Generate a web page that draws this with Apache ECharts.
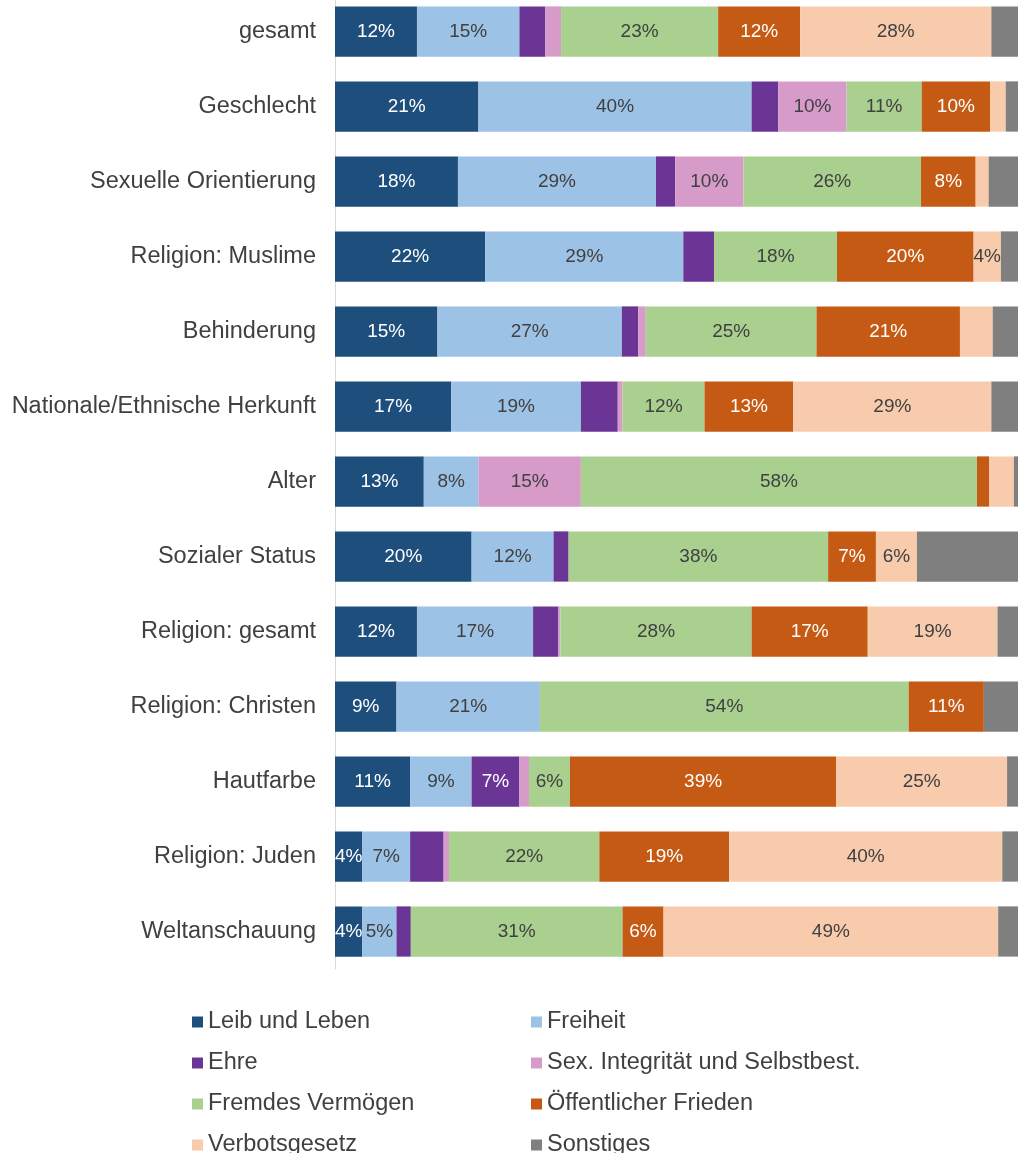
<!DOCTYPE html>
<html lang="de">
<head>
<meta charset="utf-8">
<title>Delikte nach Vorurteilsmotiv</title>
<script src="https://cdn.jsdelivr.net/npm/echarts@6/dist/echarts.min.js"></script>
<style>
  html, body { margin: 0; padding: 0; background: #ffffff; }
  body { width: 1020px; height: 1153px; overflow: hidden; }
  /* the canvas starts a few pixels above the page so the first bar sits close to the top edge;
     the legend's last row runs down to the bottom edge */
  #chart { position: relative; top: -6px; width: 1020px; height: 1200px; }
</style>
</head>
<body>
<div id="chart"></div>
<script>
// Motive categories, top to bottom
const categories = [
  'gesamt', 'Geschlecht', 'Sexuelle Orientierung', 'Religion: Muslime',
  'Behinderung', 'Nationale/Ethnische Herkunft', 'Alter', 'Sozialer Status',
  'Religion: gesamt', 'Religion: Christen', 'Hautfarbe', 'Religion: Juden',
  'Weltanschauung'
];

// Share of offence groups per motive (%). Whole numbers are the printed
// shares; fractional values are thin slivers that carry no label.
const leibUndLeben     = [12, 21, 18, 22, 15, 17, 13, 20, 12, 9, 11, 4, 4];
const freiheit         = [15, 40, 29, 29, 27, 19, 8, 12, 17, 21, 9, 7, 5];
const ehre             = [3.8, 3.9, 2.8, 4.5, 2.4, 5.4, 0, 2.2, 3.7, 0, 7, 4.9, 2.1];
const sexIntegritaet   = [2.3, 10, 10, 0, 1.1, 0.7, 15, 0, 0.3, 0, 1.4, 0.8, 0];
const fremdesVermoegen = [23, 11, 26, 18, 25, 12, 58, 38, 28, 54, 6, 22, 31];
const oeffFrieden      = [12, 10, 8, 20, 21, 13, 1.8, 7, 17, 11, 39, 19, 6];
const verbotsgesetz    = [28, 2.3, 1.9, 4, 4.8, 29, 3.6, 6, 19, 0, 25, 40, 49];
const sonstiges        = [3.9, 1.8, 4.3, 2.5, 3.7, 3.9, 0.6, 14.8, 3.0, 5, 1.6, 2.3, 2.9];

const seriesDefs = [
  { name: 'Leib und Leben', data: leibUndLeben, color: '#1e4e7b', text: '#ffffff' },
  { name: 'Freiheit', data: freiheit, color: '#9cc2e5', text: '#404040' },
  { name: 'Ehre', data: ehre, color: '#6a3594', text: '#ffffff' },
  { name: 'Sex. Integrität und Selbstbest.', data: sexIntegritaet, color: '#d79bca', text: '#404040' },
  { name: 'Fremdes Vermögen', data: fremdesVermoegen, color: '#a9d08e', text: '#404040' },
  { name: 'Öffentlicher Frieden', data: oeffFrieden, color: '#c55a14', text: '#ffffff' },
  { name: 'Verbotsgesetz', data: verbotsgesetz, color: '#f8cbad', text: '#404040' },
  { name: 'Sonstiges', data: sonstiges, color: '#7f7f7f', text: '#ffffff', noLabel: true }
];

const FONT = '"Liberation Sans", Arial, Helvetica, sans-serif';

const chart = echarts.init(document.getElementById('chart'), null, { renderer: 'canvas' });

const legendText = { fontFamily: FONT, fontSize: 23.5, color: '#404040', lineHeight: 22 };

const legendBase = {
  orient: 'vertical', top: 1016, itemGap: 17, padding: 0, height: 180,
  icon: 'rect', itemWidth: 11, itemHeight: 11,
  textStyle: legendText
};

chart.setOption({
  backgroundColor: '#ffffff',
  animation: false,
  grid: { left: 335, right: 2, top: 0, height: 975, containLabel: false },
  xAxis: {
    type: 'value', min: 0, max: 100,
    show: false
  },
  yAxis: {
    type: 'category',
    data: categories,
    inverse: true,
    axisLine: { show: true, lineStyle: { color: '#d9d9d9', width: 1 } },
    axisTick: { show: false },
    axisLabel: { fontFamily: FONT, fontSize: 23.5, color: '#404040', margin: 19 }
  },
  legend: [
    Object.assign({}, legendBase, {
      left: 192,
      data: ['Leib und Leben', 'Ehre', 'Fremdes Vermögen', 'Verbotsgesetz']
    }),
    Object.assign({}, legendBase, {
      left: 531,
      data: ['Freiheit', 'Sex. Integrität und Selbstbest.', 'Öffentlicher Frieden', 'Sonstiges']
    })
  ],
  series: seriesDefs.map(s => ({
    name: s.name,
    type: 'bar',
    stack: 'share',
    barCategoryGap: '33%',
    itemStyle: { color: s.color },
    label: {
      show: !s.noLabel,
      position: 'inside',
      fontFamily: FONT,
      fontSize: 19,
      color: s.text,
      formatter: p => (p.value > 0 && Number.isInteger(p.value)) ? p.value + '%' : ''
    },
    data: s.data
  }))
});
</script>
</body>
</html>
